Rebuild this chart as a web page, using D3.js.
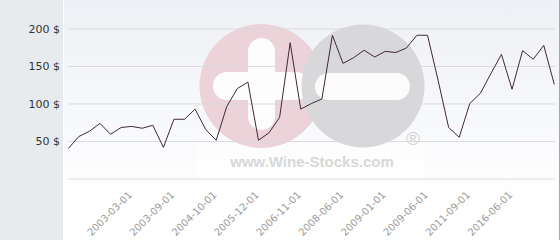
<!DOCTYPE html>
<html><head><meta charset="utf-8">
<script src="https://cdn.jsdelivr.net/npm/d3@7"></script>
<style>body{margin:0;background:#fff}svg{display:block}</style>
</head><body>
<script>
const values = [40,56,63,73.5,59,68,69.5,67,71,41.5,79,79,92.5,65.5,51,96,120,128.5,51,61,81.5,181,92.5,100,106,191,153.5,161,171,162,169.5,168,174,191,191,131,68,55,100,113.5,140,165.5,119,170.5,159,177.5,125.5];
const categories = values.map((d,i)=>i);
const tickCategories = [6,10,14,18,22,26,30,34,38,42];
const tickLabels = ["2003-03-01","2003-09-01","2004-10-01","2005-12-01","2006-11-01","2008-06-01","2009-01-01","2009-06-01","2011-09-01","2016-06-01"];
const yTicks = [0,50,100,150,200];

const W=560,H=240;
const svg=d3.select("body").append("svg").attr("width",W).attr("height",H);
const defs=svg.append("defs");
const g1=defs.append("linearGradient").attr("id","bg").attr("x1",0).attr("y1",0).attr("x2",0).attr("y2",1);
g1.append("stop").attr("offset","0%").attr("stop-color","#eef0f5");
g1.append("stop").attr("offset","100%").attr("stop-color","#ffffff");

// backgrounds
svg.append("rect").attr("x",0).attr("y",0).attr("width",63).attr("height",H).attr("fill","#e7ebee");
svg.append("rect").attr("x",64).attr("y",0).attr("width",495).attr("height",205).attr("fill","url(#bg)");
svg.append("rect").attr("x",559).attr("y",0).attr("width",1).attr("height",H).attr("fill","#a8a8a8");

const x=d3.scalePoint().domain(categories).range([68.3,554.3]);
const y=d3.scaleLinear().domain([0,200]).range([178.5,28.5]);

// watermark
const wm=svg.append("g");
wm.append("rect").attr("x",197).attr("y",143).attr("width",228).attr("height",34).attr("rx",3).attr("fill","#ffffff").attr("opacity",0.6);
wm.append("circle").attr("cx",261.5).attr("cy",86).attr("r",62).attr("fill","#ebd3d9");
wm.append("rect").attr("x",248).attr("y",38).attr("width",27).attr("height",92).attr("rx",13.5).attr("fill","#fdfdfe");
wm.append("rect").attr("x",213).attr("y",72).attr("width",97).attr("height",28).attr("rx",14).attr("fill","#fdfdfe");
wm.append("circle").attr("cx",363).attr("cy",86).attr("r",61.5).attr("fill","#d8d8da");
wm.append("rect").attr("x",315).attr("y",73).attr("width",95).attr("height",27).attr("rx",13.5).attr("fill","#fbfbfc");
wm.append("text").attr("x",312).attr("y",167).attr("text-anchor","middle")
  .attr("font-family","Liberation Sans, Arial, sans-serif").attr("font-weight","bold").attr("font-size","15px")
  .attr("fill","#d8d8d8").text("www.Wine-Stocks.com");
wm.append("text").attr("x",413).attr("y",145).attr("text-anchor","middle")
  .attr("font-family","Liberation Sans, Arial, sans-serif").attr("font-size","19px")
  .attr("fill","#d2d2d2").text("®");

// grid
const yAxis=d3.axisLeft(y).tickValues(yTicks).tickSize(-487).tickFormat(d=>d===0?"":d+" $");
const ga=svg.append("g").attr("transform","translate(68,0)").call(yAxis);
ga.select(".domain").remove();
ga.selectAll(".tick line").attr("stroke","#d8d8dc").attr("stroke-opacity",0.9);
ga.selectAll(".tick text").attr("x",-8).attr("dy","0.35em").attr("fill","#333")
  .attr("font-family","DejaVu Sans, sans-serif").attr("font-size","11px");

// line
svg.append("path").datum(values)
  .attr("fill","none").attr("stroke","#402835").attr("stroke-width",1)
  .attr("d",d3.line().x((d,i)=>x(categories[i])).y(d=>y(d)));

// x axis labels
const xAxis=d3.axisBottom(x).tickValues(tickCategories).tickSize(0)
  .tickFormat(d=>tickLabels[tickCategories.indexOf(d)]);
const gx=svg.append("g").attr("transform","translate(0,193)").call(xAxis);
gx.select(".domain").remove();
gx.selectAll(".tick text").attr("y",0).attr("dy","0.35em").attr("x",0)
  .attr("text-anchor","end").attr("transform","translate(-2,0) rotate(-45)")
  .attr("fill","#9a9a9a").attr("font-family","DejaVu Sans, sans-serif").attr("font-size","10px");
</script>
</body></html>
